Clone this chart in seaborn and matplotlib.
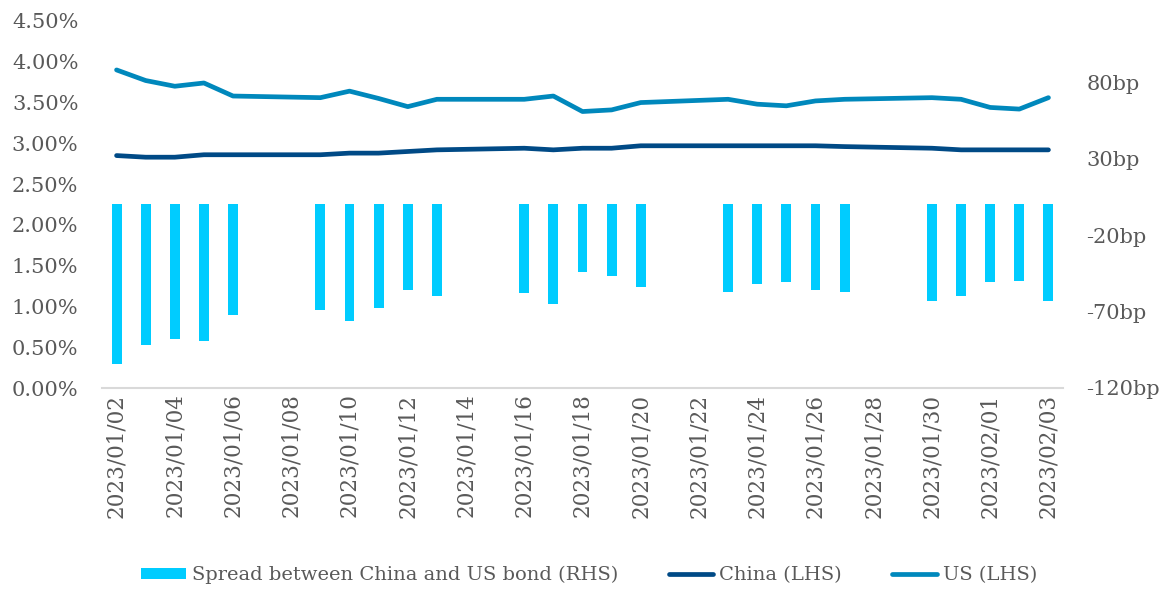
import numpy as np
import pandas as pd
import matplotlib
matplotlib.use("Agg")
import matplotlib.pyplot as plt
import seaborn as sns
from matplotlib.patches import Patch
from matplotlib.lines import Line2D

# ---- data ----
dates = ["2023-01-02", "2023-01-03", "2023-01-04", "2023-01-05", "2023-01-06",
         "2023-01-09", "2023-01-10", "2023-01-11", "2023-01-12", "2023-01-13",
         "2023-01-16", "2023-01-17", "2023-01-18", "2023-01-19", "2023-01-20",
         "2023-01-23", "2023-01-24", "2023-01-25", "2023-01-26", "2023-01-27",
         "2023-01-30", "2023-01-31", "2023-02-01", "2023-02-02", "2023-02-03"]
china = [2.85, 2.83, 2.83, 2.86, 2.86,
         2.86, 2.88, 2.88, 2.90, 2.92,
         2.94, 2.92, 2.94, 2.94, 2.97,
         2.97, 2.97, 2.97, 2.97, 2.96,
         2.94, 2.92, 2.92, 2.92, 2.92]
us = [3.90, 3.77, 3.70, 3.74, 3.58,
      3.56, 3.64, 3.55, 3.45, 3.54,
      3.54, 3.58, 3.39, 3.41, 3.50,
      3.54, 3.48, 3.46, 3.52, 3.54,
      3.56, 3.54, 3.44, 3.42, 3.56]
spread_bp = [-104, -92, -88, -89, -72,
             -69, -76, -68, -56, -60,
             -58, -65, -44, -47, -54,
             -57, -52, -51, -56, -57,
             -63, -60, -51, -50, -63]
tick_dates = ["2023-01-02", "2023-01-04", "2023-01-06", "2023-01-08", "2023-01-10",
              "2023-01-12", "2023-01-14", "2023-01-16", "2023-01-18", "2023-01-20",
              "2023-01-22", "2023-01-24", "2023-01-26", "2023-01-28", "2023-01-30",
              "2023-02-01", "2023-02-03"]
left_ticks = [0.0, 0.5, 1.0, 1.5, 2.0, 2.5, 3.0, 3.5, 4.0, 4.5]
right_ticks = [-120, -70, -20, 30, 80]
legend_labels = ["Spread between China and US bond (RHS)", "China (LHS)", "US (LHS)"]

# ---- styling ----
C_BAR = "#00CCFF"
C_CHINA = "#004A86"
C_US = "#0088BC"
C_TEXT = "#595959"

sns.set_theme(style="white")
plt.rcParams["font.family"] = ["DejaVu Serif"]

start = pd.Timestamp("2023-01-02")
df = pd.DataFrame({"date": pd.to_datetime(dates), "china": china, "us": us, "spread": spread_bp})
df["day"] = (df["date"] - start).dt.days
tick_pos = [(pd.Timestamp(d) - start).days for d in tick_dates]
tick_lab = [pd.Timestamp(d).strftime("%Y/%m/%d") for d in tick_dates]

fig = plt.figure(figsize=(11.69, 5.92), dpi=100)
ax1 = fig.add_axes([102 / 1169, 1 - 388 / 592, (1063 - 102) / 1169, (388 - 21) / 592])
ax2 = ax1.twinx()

sns.barplot(data=df, x="day", y="spread", native_scale=True, width=0.34,
            color=C_BAR, saturation=1, errorbar=None, ax=ax2, linewidth=0)
sns.lineplot(data=df, x="day", y="china", color=C_CHINA, lw=3.4,
             solid_capstyle="round", ax=ax1)
sns.lineplot(data=df, x="day", y="us", color=C_US, lw=3.4,
             solid_capstyle="round", ax=ax1)

ax1.set_zorder(ax2.get_zorder() + 1)
ax1.patch.set_visible(False)

ax1.set_xlim(-0.5, 32.5)
ax1.set_ylim(0, 4.5)
ax2.set_ylim(-120, 120)

ax1.set_xticks(tick_pos)
ax1.set_xticklabels(tick_lab, rotation=90)
ax1.set_yticks(left_ticks)
ax1.set_yticklabels([f"{v:.2f}%" for v in left_ticks])
ax2.set_yticks(right_ticks)
ax2.set_yticklabels([f"{v}bp" for v in right_ticks])

for a in (ax1, ax2):
    a.set_xlabel("")
    a.set_ylabel("")
    for s in a.spines.values():
        s.set_visible(False)
ax1.spines["bottom"].set_visible(True)
ax1.spines["bottom"].set_color("#D9D9D9")
ax1.spines["bottom"].set_linewidth(1.5)

ax1.tick_params(axis="x", length=0, pad=4, labelsize=15.5, colors=C_TEXT)
ax1.tick_params(axis="y", length=0, pad=17, labelsize=15, colors=C_TEXT)
ax2.tick_params(axis="y", length=0, pad=17, labelsize=15, colors=C_TEXT)

handles = [Patch(facecolor=C_BAR, edgecolor="none"),
           Line2D([], [], color=C_CHINA, lw=3.4, solid_capstyle="round"),
           Line2D([], [], color=C_US, lw=3.4, solid_capstyle="round")]
fig.legend(handles, legend_labels, loc="center", bbox_to_anchor=(0.504, 1 - 575 / 592),
           ncol=3, frameon=False, fontsize=14, labelcolor=C_TEXT,
           handlelength=2.3, handleheight=0.5, handletextpad=0.3, columnspacing=2.6)

fig.savefig("out.png", dpi=100)
